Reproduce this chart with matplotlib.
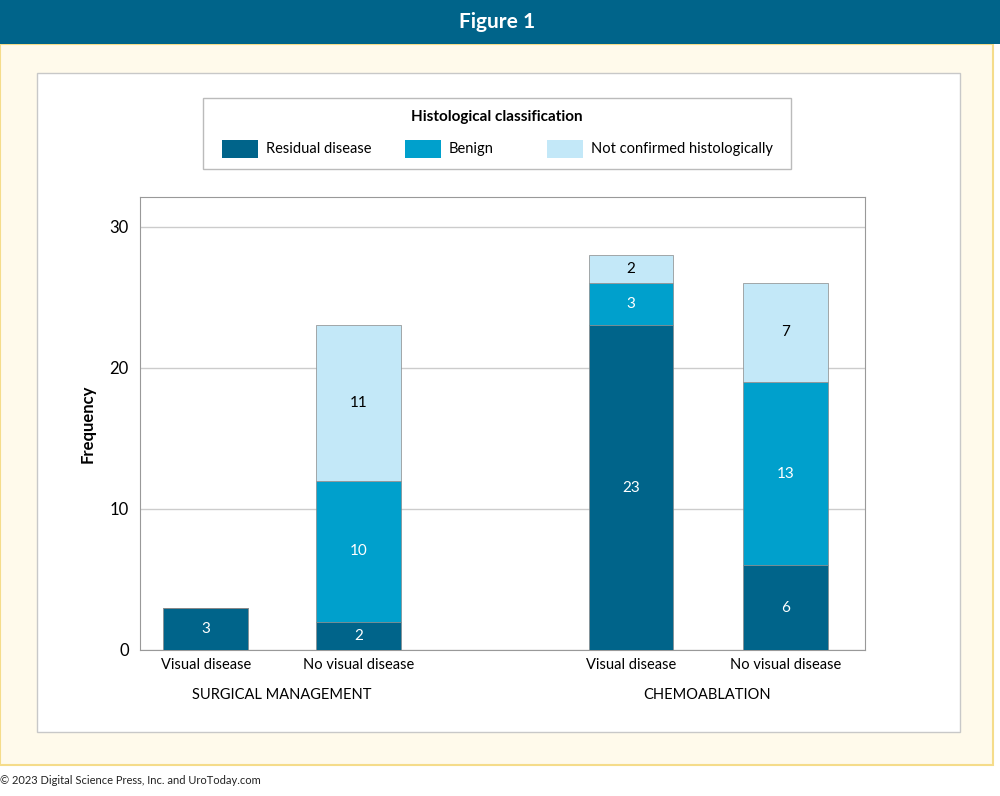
import matplotlib.pyplot as plt
from matplotlib.patches import Rectangle
import numpy as np

plt.rcParams['font.family'] = ['Lato', 'DejaVu Sans']

groups = ['SURGICAL MANAGEMENT', 'CHEMOABLATION']
categories = ['Visual disease', 'No visual disease', 'Visual disease', 'No visual disease']
residual = [3, 2, 23, 6]
benign = [0, 10, 3, 13]
not_confirmed = [0, 11, 2, 7]
series_names = ['Residual disease', 'Benign', 'Not confirmed histologically']
colors = ['#00648a', '#00a0cc', '#c3e8f8']

W, H = 1000, 796
fig = plt.figure(figsize=(W / 100, H / 100), dpi=100)
fig.patch.set_facecolor('white')

def px(x, y, w, h):
    return [x / W, 1 - (y + h) / H, w / W, h / H]

# background panels (behind the axes)
fig.patches.append(Rectangle((0, 1 - 765 / H), 993 / W, 721 / H, transform=fig.transFigure,
                             facecolor='#fffaeb', edgecolor='#f5dc8a', lw=1.5, zorder=-10))
fig.patches.append(Rectangle((0, 1 - 44 / H), 1, 44 / H, transform=fig.transFigure,
                             facecolor='#00648a', edgecolor='none', zorder=-9))
fig.text(0.497, 1 - 22 / H, 'Figure 1', color='white', fontsize=15, fontweight='bold',
         ha='center', va='center')
fig.patches.append(Rectangle((37 / W, 1 - 732 / H), 923 / W, 659 / H, transform=fig.transFigure,
                             facecolor='white', edgecolor='#c8c8c8', lw=1, zorder=-8))
fig.text(0, 1 - 780 / H, '© 2023 Digital Science Press, Inc. and UroToday.com', fontsize=8,
         ha='left', va='center', color='#222222')

ax = fig.add_axes(px(140, 197, 725, 453))
x = np.array([0, 1, 2.78, 3.79])
w = 0.555
b1 = np.array(residual)
b2 = b1 + np.array(benign)
ax.bar(x, residual, w, color=colors[0], edgecolor='#888888', lw=0.5, zorder=3)
ax.bar(x, benign, w, bottom=b1, color=colors[1], edgecolor='#888888', lw=0.5, zorder=3)
ax.bar(x, not_confirmed, w, bottom=b2, color=colors[2], edgecolor='#888888', lw=0.5, zorder=3)
for i in range(4):
    for val, bot, tc in [(residual[i], 0, 'white'), (benign[i], b1[i], 'white'),
                         (not_confirmed[i], b2[i], 'black')]:
        if val:
            ax.text(x[i], bot + val / 2, str(val), ha='center', va='center',
                    color=tc, fontsize=11, zorder=4)
ax.set_xlim(-0.43, 4.31)
ax.set_ylim(0, 32.1)
ax.set_yticks([0, 10, 20, 30])
ax.tick_params(axis='y', labelsize=12, length=0, pad=8)
ax.tick_params(axis='x', labelsize=10.5, length=0, pad=6)
ax.set_xticks(x)
ax.set_xticklabels(categories)
ax.yaxis.grid(True, color='#cccccc', lw=1, zorder=0)
for s in ax.spines.values():
    s.set_color('#999999')
ax.set_ylabel('Frequency', fontsize=12, fontweight='bold', labelpad=10)
ax.text(0.5, -3.2, groups[0], ha='center', va='center', fontsize=10.5)
ax.text(3.28, -3.2, groups[1], ha='center', va='center', fontsize=10.5)

# legend box
fig.patches.append(Rectangle((203 / W, 1 - 169 / H), 588 / W, 71 / H, transform=fig.transFigure,
                             facecolor='white', edgecolor='#bbbbbb', lw=1, zorder=-7))
fig.text(497 / W, 1 - 117 / H, 'Histological classification', fontsize=11, fontweight='bold',
         ha='center', va='center')
for (lx, tx), name, c in zip([(222, 266), (405, 449), (547, 591)], series_names, colors):
    fig.patches.append(Rectangle((lx / W, 1 - 158 / H), 36 / W, 18 / H,
                                 transform=fig.transFigure, facecolor=c, edgecolor='none', zorder=-6))
    fig.text(tx / W, 1 - 149 / H, name, fontsize=10.5, ha='left', va='center')

fig.savefig('out.png', dpi=100)
